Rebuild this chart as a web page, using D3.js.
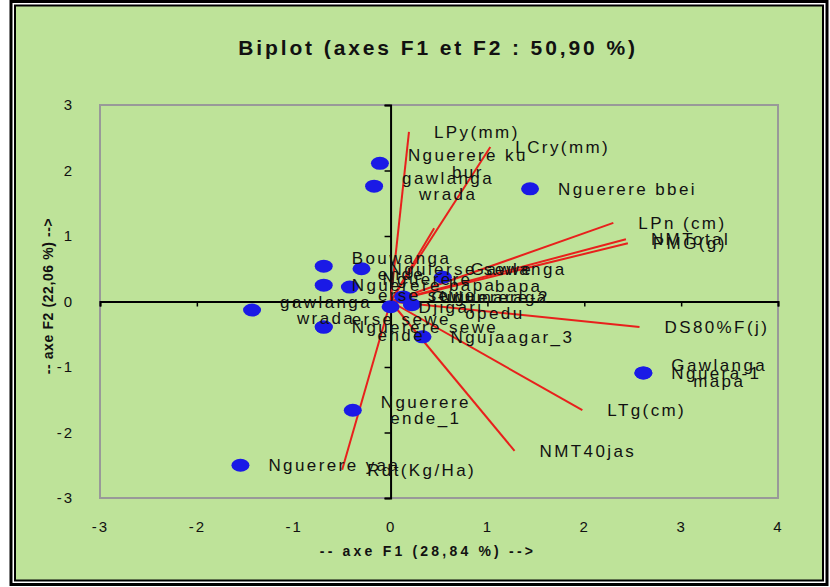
<!DOCTYPE html>
<html>
<head>
<meta charset="utf-8">
<script src="https://cdn.jsdelivr.net/npm/d3@7/dist/d3.min.js"></script>
<style>
  html, body { margin: 0; padding: 0; background: #ffffff; }
  svg { display: block; font-family: "Liberation Sans", Arial, sans-serif; }
</style>
</head>
<body>
<svg id="chart" width="830" height="587"></svg>
<script>
// Observations (F1, F2 scores); "\n" splits a label over two lines
const obsNames = [
  "Nguerere ku\nbur", "gawlanga\nwrada", "Nguerere bbei", "Bouwanga\nende",
  "Nguerere bapa", "Nguerere\nerse sewe", "Ngulerse sewe", "Gawlanga\nbapa",
  "Gulumaraga", "Nguerere-2\nopedu", "Djigari", "gawlanga\nwrada",
  "Nguerere sewe", "erse sewe\nende", "Ngujaagar_3", "Gawlanga\nmapa",
  "Nguera-1", "Nguerere\nende_1", "Nguerere yaa"
];
const obsF1 = [-0.11, -0.17, 1.44, -0.69, -0.69, -0.42, -0.30, 0.54, 0.13, 0.22, 0.00, -1.43, -0.69, -0.69, 0.33, 2.61, 2.61, -0.39, -1.55];
const obsF2 = [ 2.11,  1.76, 1.72,  0.54,  0.25,  0.22,  0.50, 0.37, 0.07, -0.05, -0.08, -0.13, -0.39, -0.39, -0.54, -1.09, -1.09, -1.66, -2.50];

// Variables (loadings drawn as vectors from the origin)
const varNames = ["LPy(mm)", "LCry(mm)", "", "LPn (cm)", "NMTotal", "PMG(g)", "DS80%F(j)", "LTg(cm)", "NMT40jas", "Rdt(Kg/Ha)"];
const varF1 = [0.19, 1.03, 0.45, 2.30, 2.43, 2.45, 2.57, 1.98, 1.28, -0.50];
const varF2 = [2.59, 2.36, 1.12, 1.20, 0.95, 0.89, -0.39, -1.66, -2.28, -2.57];

const xTicks = [-3, -2, -1, 0, 1, 2, 3, 4];
const yTicks = [-3, -2, -1, 0, 1, 2, 3];

const titleText = "Biplot (axes F1 et F2 : 50,90 %)";
const xTitle = "-- axe F1 (28,84 %) -->";
const yTitle = "-- axe F2 (22,06 %) -->";

const svg = d3.select("#chart");
const green = "#bee399";

// outer double frame
svg.append("rect").attr("x", 11).attr("y", 1.5).attr("width", 816).attr("height", 583)
  .attr("fill", "none").attr("stroke", "#000").attr("stroke-width", 3);
svg.append("rect").attr("x", 15).attr("y", 5.5).attr("width", 808).attr("height", 575)
  .attr("fill", green).attr("stroke", "#000").attr("stroke-width", 2);

const x = d3.scaleLinear().domain([-3, 4]).range([100, 778]);
const y = d3.scaleLinear().domain([-3, 3]).range([498, 105]);

// plot area border
svg.append("rect").attr("x", x(-3)).attr("y", y(3)).attr("width", x(4) - x(-3)).attr("height", y(-3) - y(3))
  .attr("fill", "none").attr("stroke", "#999").attr("stroke-width", 2);

// title
svg.append("text").attr("x", 438).attr("y", 47).attr("text-anchor", "middle")
  .attr("dominant-baseline", "central").attr("font-size", 21).attr("font-weight", "bold")
  .attr("fill", "#111").attr("letter-spacing", 2.9).text(titleText);

// axes through the origin
const gx = svg.append("g").attr("transform", `translate(0,${y(0)})`)
  .call(d3.axisBottom(x).tickValues(xTicks).tickSize(5).tickFormat(""));
const gy = svg.append("g").attr("transform", `translate(${x(0)},0)`)
  .call(d3.axisLeft(y).tickValues(yTicks).tickSize(6).tickFormat(""));
[gx, gy].forEach(g => {
  g.select(".domain").attr("stroke", "#000").attr("stroke-width", 2);
  g.selectAll(".tick line").attr("stroke", "#000").attr("stroke-width", 1.5);
});

// tick labels along the plot edges
const tickFmt = d => (d < 0 ? "-" : "") + Math.abs(d);
const lx = svg.append("g").attr("transform", `translate(0,${y(-3) + 29})`)
  .call(d3.axisBottom(x).tickValues(xTicks).tickSize(0).tickPadding(0).tickFormat(tickFmt));
const ly = svg.append("g").attr("transform", `translate(74,0)`)
  .call(d3.axisLeft(y).tickValues(yTicks).tickSize(0).tickPadding(0).tickFormat(tickFmt));
[lx, ly].forEach(g => {
  g.select(".domain").remove();
  g.selectAll("text").attr("font-size", 15).attr("fill", "#111")
    .attr("font-family", "Liberation Sans, Arial, sans-serif").attr("letter-spacing", 2);
});
lx.selectAll("text").attr("dy", "0.32em").attr("y", 0);
ly.selectAll("text").attr("dy", "0.32em").attr("x", 0);

// axis titles
svg.append("text").attr("x", 428).attr("y", 551).attr("text-anchor", "middle")
  .attr("dominant-baseline", "central").attr("font-size", 14).attr("font-weight", "bold")
  .attr("fill", "#111").attr("letter-spacing", 3.2).text(xTitle);
svg.append("text").attr("transform", "translate(48,296) rotate(-90)").attr("text-anchor", "middle")
  .attr("dominant-baseline", "central").attr("font-size", 14).attr("font-weight", "bold")
  .attr("fill", "#111").attr("letter-spacing", 0.6).text(yTitle);

// variable vectors
const vars = varNames.map((n, i) => ({ name: n, f1: varF1[i], f2: varF2[i] }));
svg.append("g").selectAll("line").data(vars).join("line")
  .attr("x1", x(0)).attr("y1", y(0))
  .attr("x2", d => x(d.f1)).attr("y2", d => y(d.f2))
  .attr("stroke", "#e8201c").attr("stroke-width", 2);

// observation points
const obs = obsNames.map((n, i) => ({ name: n, f1: obsF1[i], f2: obsF2[i] }));
svg.append("g").selectAll("ellipse").data(obs).join("ellipse")
  .attr("cx", d => x(d.f1)).attr("cy", d => y(d.f2))
  .attr("rx", 9).attr("ry", 6.5).attr("fill", "#1a1ae6");

// labels: multi-line blocks, lines centred within the block
const lineH = 16.5;
function drawLabel(g, d, dx) {
  const lines = d.name.split("\n");
  const cx = x(d.f1), cy = y(d.f2);
  const t = g.append("text").attr("font-size", 17).attr("fill", "#111")
    .attr("letter-spacing", 2.4).attr("dominant-baseline", "central");
  const spans = lines.map((l, k) => t.append("tspan").text(l)
    .attr("y", cy + (k - (lines.length - 1) / 2) * lineH));
  const widths = spans.map(s => s.node().getComputedTextLength());
  const maxW = d3.max(widths);
  spans.forEach((s, k) => s.attr("x", cx + dx + (maxW - widths[k]) / 2));
}
const labelLayer = svg.append("g");
vars.filter(d => d.name).forEach(d => drawLabel(labelLayer, d, 25));
obs.forEach(d => drawLabel(labelLayer, d, 28));
</script>
</body>
</html>
